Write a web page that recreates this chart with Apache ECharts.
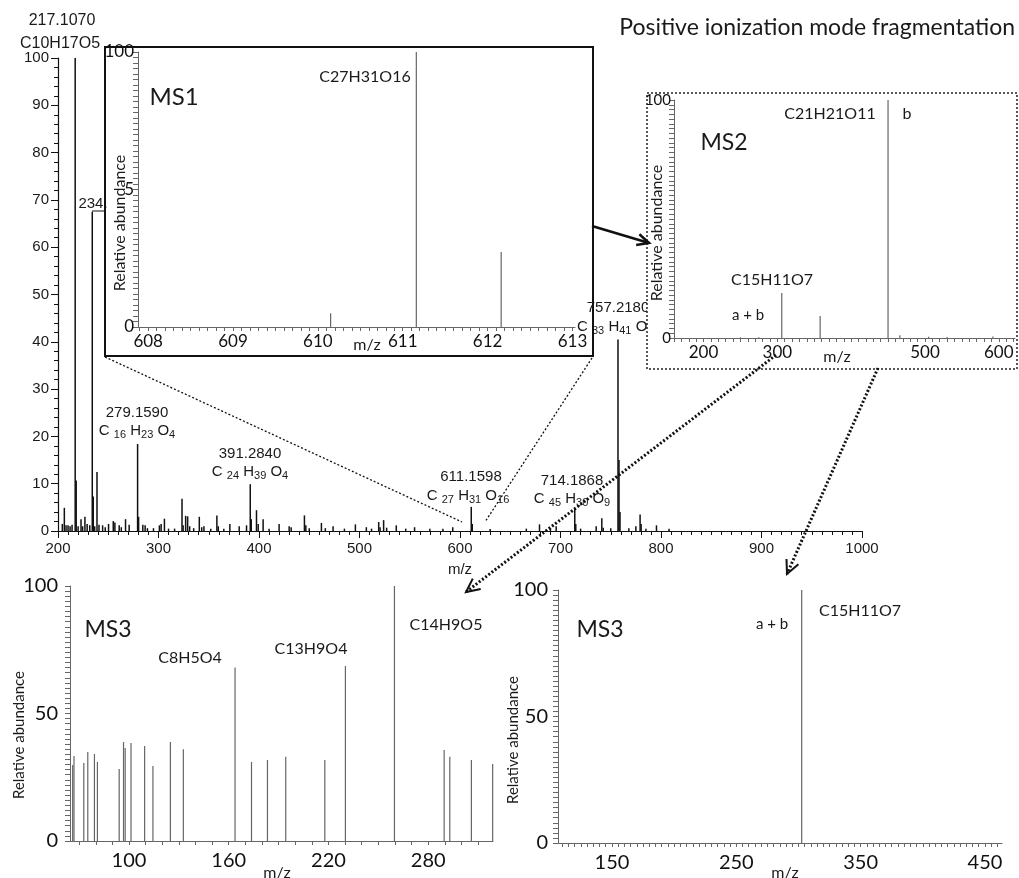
<!DOCTYPE html>
<html>
<head>
<meta charset="utf-8">
<script src="https://cdn.jsdelivr.net/npm/echarts@6/dist/echarts.min.js"></script>
<style>
  html, body { margin: 0; background: #fff; }
  #chart { width: 1019px; height: 878px; }
</style>
</head>
<body>
<div id="chart"></div>
<script>
// full scan spectrum, [m/z, relative abundance]
const mainPeaks = [
  [204.3, 1.5], [206.3, 4.9], [208, 1.2], [210, 1.2], [212, 1], [214, 1.3], [217.1, 100], [218.1, 10.7],
  [220, 1], [222.9, 2.5], [224.5, 1], [226.8, 3], [229, 1.5], [231.6, 1.2], [234.1, 67.5], [235.1, 7.3],
  [236.5, 1], [238.8, 12.5], [240.8, 1.3], [244.4, 1.2], [247, 0.8], [250.3, 1.5], [255, 2.1], [256.6, 1.8],
  [260.9, 1.2], [263, 0.8], [267.2, 2.5], [270.8, 1.3], [279.2, 18.4], [280.2, 3], [284.4, 1.3], [286.7, 1.2],
  [289, 0.6], [295, 0.6], [300.9, 1.2], [302.6, 1.5], [305.9, 2.6], [310, 0.5], [316, 0.5], [323.4, 6.8],
  [324.5, 1.2], [327, 3.2], [329, 3.1], [331, 1], [335, 0.6], [340.6, 3], [343, 0.8], [345.2, 1],
  [352, 0.5], [358.1, 3.3], [359.5, 1], [365, 0.5], [371, 1.5], [380.3, 1], [387.6, 1.2], [391.3, 9.9],
  [392.3, 2.5], [397.5, 4.4], [399.2, 1.5], [404.1, 2.5], [410, 0.5], [420, 1.5], [430, 1], [432, 0.8],
  [445.2, 3.3], [446.6, 1.2], [450, 0.6], [462.1, 1.7], [466, 0.6], [473.7, 1], [485, 0.5], [495.9, 1.4],
  [506.8, 0.8], [512, 0.5], [519.1, 1.9], [520.5, 0.8], [524, 2.3], [527, 0.7], [536.6, 1.2], [546, 0.5],
  [554.8, 0.8], [570, 0.5], [583, 0.5], [592.8, 0.8], [611.2, 5.1], [612.2, 1.5], [630, 0.4], [666, 0.5],
  [679.1, 1.4], [690, 0.6], [695.7, 1], [714.2, 4.7], [715.2, 1.5], [720, 0.5], [735.5, 1], [741.1, 2.7],
  [742.5, 0.7], [750, 0.6], [757.2, 40.5], [758.2, 15], [759.2, 4], [768, 0.6], [775, 1], [779.2, 3.5],
  [780.2, 1.5], [785, 0.5], [795.5, 1.2], [808, 0.5]
];
const ms1Peaks = [[610.15, 5], [611.16, 100], [612.16, 27.3]];
const ms2Peaks = [[250, 0.3], [275, 0.3], [306, 18.9], [358, 9.2], [450, 100], [466, 1.2], [505, 0.5], [530, 0.4], [592, 0.6]];
const ms3aPeaks = [
  [66.1, 29.8], [66.9, 33.3], [72.8, 30.6], [75.2, 34.9], [79.2, 34.1], [81, 31], [94.1, 28.2], [96.7, 38.8],
  [97.7, 36.5], [101.2, 38.4], [109.4, 37.3], [114.4, 29.4], [124.9, 38.8], [132.7, 36], [163.8, 68],
  [173.7, 31], [183.3, 31.8], [194.3, 33], [217.8, 31.8], [230.2, 68.6], [259.7, 100], [289.6, 35.7],
  [293, 33], [306, 31.8], [318.8, 30.2]
];
const ms3bPeaks = [[302.6, 100]];

// tick labels
const ms1Labels = [608, 609, 610, 611, 612, 613];
const ms2Labels = [200, 300, 500, 600];
const ms3aLabels = [100, 160, 220, 280];
const ms3bLabels = [150, 250, 350, 450];
const abundanceLabels = [0, 50, 100];

const SANS = "'Liberation Sans', Arial, sans-serif";
const CAL = "Lato, 'Open Sans', sans-serif";
const AXIS_GRAY = "#666";

function range(from, to, step) {
  const out = [];
  for (let v = from; v <= to + 1e-9; v += step) out.push(Math.round(v * 1000) / 1000);
  return out;
}

function insetX(grid, min, max, labels, tickStep, fontSize, margin, z) {
  return {
    type: "value", gridIndex: grid, min, max, z,
    axisLine: { lineStyle: { color: AXIS_GRAY } },
    axisTick: { show: true, customValues: range(Math.ceil(min / tickStep) * tickStep, max, tickStep), length: 4, lineStyle: { color: AXIS_GRAY, width: 1 } },
    axisLabel: { customValues: labels, fontSize, fontFamily: CAL, color: "#111", margin },
    splitLine: { show: false },
  };
}

function insetY(grid, labels, fontSize, margin, z, formatter) {
  return {
    type: "value", gridIndex: grid, min: 0, max: 100, interval: 2, z,
    axisLine: { show: true, lineStyle: { color: AXIS_GRAY } },
    axisTick: { show: true, length: 5, lineStyle: { color: AXIS_GRAY, width: 1 } },
    axisLabel: { customValues: labels, fontSize, fontFamily: CAL, color: "#111", margin, formatter },
    splitLine: { show: false },
  };
}

function sticks(data, idx, color, width) {
  return { type: "bar", xAxisIndex: idx, yAxisIndex: idx, data, barWidth: width, itemStyle: { color }, silent: true };
}

function text(str, x, y, size, family, extra) {
  return Object.assign({
    type: "text", x, y,
    style: { text: str, fontSize: size, fontFamily: family, fill: "#1a1a1a", textAlign: "center", textVerticalAlign: "middle" },
  }, extra || {});
}

function formula(str, x, y, align, extra) {
  return Object.assign({
    type: "text", x, y,
    style: {
      text: str, fontSize: 15, fontFamily: SANS, fill: "#1a1a1a", textAlign: align || "center", textVerticalAlign: "middle",
      rich: { s: { fontSize: 11, fontFamily: SANS, fill: "#1a1a1a", verticalAlign: "bottom", padding: [7, 0, 0, 0] } },
    },
  }, extra || {});
}

function vertical(str, x, y, size, z) {
  return text(str, x, y, size, CAL, { rotation: Math.PI / 2, z: z || 0 });
}

function line(x1, y1, x2, y2, width, dash, z) {
  return { type: "line", z: z === undefined ? 4 : z, shape: { x1, y1, x2, y2 }, style: { stroke: "#111", lineWidth: width, lineDash: dash || null } };
}

function arrowHead(x1, y1, x2, y2, len, width) {
  const a = Math.atan2(y2 - y1, x2 - x1);
  const s = 0.45;
  return {
    type: "polyline", z: 4,
    shape: { points: [[x2 - len * Math.cos(a - s), y2 - len * Math.sin(a - s)], [x2, y2], [x2 - len * Math.cos(a + s), y2 - len * Math.sin(a + s)]] },
    style: { stroke: "#111", lineWidth: width, fill: null },
  };
}

const chart = echarts.init(document.getElementById("chart"));

chart.setOption({
  animation: false,
  backgroundColor: "#fff",
  grid: [
    { left: 58, top: 58, width: 804, height: 473, outerBoundsMode: "none" },
    { left: 138, top: 52, width: 437, height: 275, outerBoundsMode: "none" },
    { left: 674, top: 100, width: 341, height: 238, outerBoundsMode: "none" },
    { left: 70, top: 586, width: 423, height: 255, outerBoundsMode: "none" },
    { left: 558, top: 590, width: 444, height: 253, outerBoundsMode: "none" },
  ],
  xAxis: [
    {
      type: "value", gridIndex: 0, min: 200, max: 1000, interval: 100,
      axisLine: { lineStyle: { color: "#111", width: 1.2 } },
      axisTick: { length: 7, lineStyle: { color: "#111" } },
      minorTick: { show: true, splitNumber: 10, length: 4, lineStyle: { color: "#111" } },
      axisLabel: { fontSize: 15, fontFamily: SANS, color: "#1a1a1a", margin: 10, formatter: (v) => String(v) },
      splitLine: { show: false },
      name: "m/z", nameLocation: "middle", nameGap: 31,
      nameTextStyle: { fontSize: 15, fontFamily: SANS, color: "#1a1a1a" },
    },
    insetX(1, 607.88, 613.03, ms1Labels, 0.1, 17, 6, 0),
    insetX(2, 160, 622, ms2Labels, 10, 17, 6, 3),
    insetX(3, 64.5, 319, ms3aLabels, 10, 20, 10, 0),
    insetX(4, 106.6, 463.7, ms3bLabels, 5, 20, 10, 0),
  ],
  yAxis: [
    {
      type: "value", gridIndex: 0, min: 0, max: 100, interval: 10,
      axisLine: { show: true, lineStyle: { color: "#111", width: 1.2 } },
      axisTick: { show: true, length: 7, lineStyle: { color: "#111" } },
      minorTick: { show: true, splitNumber: 5, length: 4, lineStyle: { color: "#111" } },
      axisLabel: { fontSize: 15, fontFamily: SANS, color: "#1a1a1a", margin: 9 },
      splitLine: { show: false },
    },
    insetY(1, abundanceLabels, 17, 4, 0, (v) => (v === 50 ? "5" : String(v))),
    insetY(2, [0, 100], 15, 3, 3),
    insetY(3, abundanceLabels, 20, 12, 0),
    insetY(4, abundanceLabels, 20, 10, 0),
  ],
  series: [
    sticks(mainPeaks, 0, "#111", 1.5),
    sticks(ms1Peaks, 1, "#666", 1.2),
    sticks(ms2Peaks, 2, "#666", 1.2),
    sticks(ms3aPeaks, 3, "#666", 1.2),
    sticks(ms3bPeaks, 4, "#666", 1.2),
  ],
  graphic: {
    elements: [
      { type: "text", x: 1015, y: 28, style: { text: "Positive ionization mode fragmentation", fontSize: 23, fontFamily: CAL, fill: "#1a1a1a", textAlign: "right", textVerticalAlign: "middle" } },

      // full scan annotations
      text("217.1070", 62, 21, 16, SANS),
      text("C10H17O5", 60, 44, 16, SANS),
      text("234.", 93, 204, 15, SANS),
      line(92, 211, 106, 211, 1, null, 0),
      text("279.1590", 137, 413, 15, SANS),
      formula("C {s|16} H{s|23} O{s|4}", 137, 431),
      text("391.2840", 250, 454, 15, SANS),
      formula("C {s|24} H{s|39} O{s|4}", 250, 472),
      text("611.1598", 471, 477, 15, SANS),
      formula("C {s|27} H{s|31} O{s|16}", 468, 496),
      text("714.1868", 572, 481, 15, SANS),
      formula("C {s|45} H{s|30} O{s|9}", 572, 499),
      text("757.2180", 618, 308, 15, SANS),
      formula("C {s|33} H{s|41} O{s|20}", 577, 327, "left"),

      // MS1 inset
      { type: "rect", z: 1, shape: { x: 105, y: 47, width: 488, height: 309 }, style: { fill: null, stroke: "#111", lineWidth: 2 } },
      text("MS1", 174, 97, 24, CAL),
      text("C27H31O16", 365, 77, 16, CAL),
      text("m/z", 367, 345, 16, CAL),
      vertical("Relative abundance", 120, 223, 16),

      // MS2 inset
      { type: "rect", z: 1, shape: { x: 647, y: 93, width: 370, height: 276 }, style: { fill: "#fff", stroke: "#222", lineWidth: 1.5, lineDash: [2, 2] } },
      text("MS2", 724, 143, 23, CAL, { z: 3 }),
      text("C21H21O11", 830, 114, 16, CAL, { z: 3 }),
      text("b", 907, 114, 16, CAL, { z: 3 }),
      text("C15H11O7", 772, 280, 16, CAL, { z: 3 }),
      text("a + b", 748, 315, 15, CAL, { z: 3 }),
      text("m/z", 837, 357, 16, CAL, { z: 3 }),
      vertical("Relative abundance", 657, 233, 16, 3),

      // MS3 panels
      text("MS3", 108, 630, 23, CAL),
      text("C8H5O4", 190, 658, 16, CAL),
      text("C13H9O4", 311, 649, 16, CAL),
      text("C14H9O5", 446, 625, 16, CAL),
      text("m/z", 277, 873, 16, CAL),
      vertical("Relative abundance", 19, 735, 15),
      text("MS3", 600, 630, 23, CAL),
      text("a + b", 772, 624, 15, CAL),
      text("C15H11O7", 860, 611, 16, CAL),
      text("m/z", 785, 873, 16, CAL),
      vertical("Relative abundance", 513, 740, 15),

      // connectors
      line(105, 357, 462, 522, 1.3, [2, 2]),
      line(592, 358, 485, 522, 1.3, [2, 2]),
      line(592, 226, 649, 243, 2.5),
      arrowHead(592, 226, 649, 243, 13, 2.5),
      line(776, 355, 466, 592, 3, [2, 2]),
      arrowHead(776, 355, 466, 592, 15, 2),
      line(878, 368, 787, 574, 3, [2, 2]),
      arrowHead(878, 368, 787, 574, 15, 2),
    ],
  },
});
</script>
</body>
</html>
